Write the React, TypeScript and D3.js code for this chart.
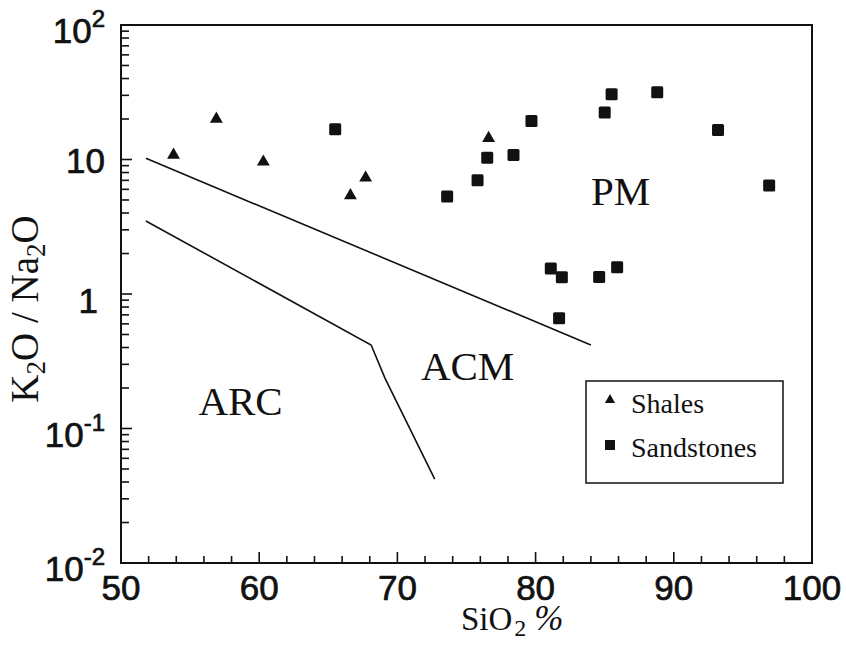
import * as d3 from "d3";

const W = 846;
const H = 650;
const left = 121;
const right = 812;
const top = 25;
const bottom = 563;

// SiO2 %, K2O/Na2O
const shalesSiO2 = [53.8, 56.9, 60.3, 66.6, 67.7, 76.6];
const shalesRatio = [10.8, 20, 9.6, 5.4, 7.3, 14.4];

const sandSiO2 = [65.5, 73.6, 75.8, 76.5, 78.4, 79.7, 81.1, 81.9, 81.7, 84.6, 85.0, 85.5, 85.9, 88.8, 93.2, 96.9];
const sandRatio = [16.8, 5.3, 7.0, 10.3, 10.8, 19.3, 1.55, 1.33, 0.66, 1.34, 22.4, 30.5, 1.58, 31.6, 16.6, 6.4];

// discriminant boundaries
const upperLine: [number, number][] = [[51.8, 10.2], [84.0, 0.418]];
const lowerLine: [number, number][] = [[51.8, 3.49], [68.1, 0.418], [69.1, 0.237], [72.7, 0.042]];

const xTicks = [50, 60, 70, 80, 90, 100];
const yTicks = [100, 10, 1, 0.1, 0.01];
const yTickBase = ["10", "10", "1", "10", "10"];
const yTickExp = ["2", "", "", "-1", "-2"];

// field names, placed at their left / baseline
const regionNames = ["ARC", "ACM", "PM"];
const regionSiO2 = [55.6, 71.7, 84.0];
const regionRatio = [0.126, 0.229, 4.6];

const x = d3.scaleLinear().domain([50, 100]).range([left, right]);
const y = d3.scaleLog().domain([0.01, 100]).range([bottom, top]);

const line = d3
  .line<[number, number]>()
  .x((d) => x(d[0]))
  .y((d) => y(d[1]));

const xMinor = d3.range(52, 100, 2).filter((v) => v % 10 !== 0);
const yMinor: number[] = [];
[0.01, 0.1, 1, 10].forEach((dec) => {
  for (let k = 2; k <= 9; k++) yMinor.push(dec * k);
});

const tri = d3.symbol().type(d3.symbolTriangle).size(72);
const triSmall = d3.symbol().type(d3.symbolTriangle).size(45);

const sans = "Liberation Sans, Arial, sans-serif";
const serif = "Liberation Serif, Times New Roman, serif";

function App() {
  return (
    <svg
      width={W}
      height={H}
      style={{ position: "absolute", left: 0, top: 0, background: "#fff" }}
    >
      <rect x={0} y={0} width={W} height={H} fill="#fff" />

      {/* frame */}
      <rect
        x={left}
        y={top}
        width={right - left}
        height={bottom - top}
        fill="none"
        stroke="#111"
        strokeWidth={2}
      />

      {/* x ticks */}
      {xTicks.map((t) => (
        <line key={"xm" + t} x1={x(t)} x2={x(t)} y1={bottom} y2={bottom - 11} stroke="#111" strokeWidth={1.6} />
      ))}
      {xMinor.map((t) => (
        <line key={"xn" + t} x1={x(t)} x2={x(t)} y1={bottom} y2={bottom - 7} stroke="#111" strokeWidth={1.6} />
      ))}
      {xTicks.map((t) => (
        <text
          key={"xl" + t}
          x={x(t)}
          y={600}
          textAnchor="middle"
          fontFamily={sans}
          fontSize={35}
          fill="#111"
          stroke="#111"
          strokeWidth={0.7}
        >
          {t}
        </text>
      ))}

      {/* y ticks */}
      {yTicks.map((t) => (
        <line key={"ym" + t} x1={left} x2={left + 11} y1={y(t)} y2={y(t)} stroke="#111" strokeWidth={1.6} />
      ))}
      {yMinor.map((t, i) => (
        <line key={"yn" + i} x1={left} x2={left + 8} y1={y(t)} y2={y(t)} stroke="#111" strokeWidth={1.6} />
      ))}
      {yTicks.map((t, i) => (
        <text
          key={"yl" + t}
          x={yTickExp[i] || yTickBase[i] === "10" ? 105 : 98}
          y={y(t) + (yTickExp[i] ? 18 : yTickBase[i] === "1" ? 19 : 13)}
          textAnchor="end"
          fontFamily={sans}
          fontSize={35}
          fill="#111"
          stroke="#111"
          strokeWidth={0.7}
        >
          {yTickBase[i]}
          {yTickExp[i] && (
            <tspan fontSize={24} dy={-16}>
              {yTickExp[i]}
            </tspan>
          )}
        </text>
      ))}

      {/* axis titles */}
      <text x={461} y={630} fontFamily={serif} fontSize={33} fill="#111">
        SiO
        <tspan fontSize={24} dy={6} dx={2}>2</tspan>
        <tspan dy={-6} dx={8} fontStyle="italic" fontSize={35}>%</tspan>
      </text>
      <text
        transform={`translate(38, 309) rotate(-90)`}
        textAnchor="middle"
        fontFamily={serif}
        fontSize={39}
        fill="#111"
      >
        K<tspan fontSize={27} dy={7}>2</tspan>
        <tspan dy={-7}>O / Na</tspan>
        <tspan fontSize={27} dy={7}>2</tspan>
        <tspan dy={-7}>O</tspan>
      </text>

      {/* boundaries */}
      <path d={line(upperLine) || ""} fill="none" stroke="#111" strokeWidth={1.6} />
      <path d={line(lowerLine) || ""} fill="none" stroke="#111" strokeWidth={1.6} />

      {/* region names */}
      {regionNames.map((n, i) => (
        <text
          key={n}
          x={x(regionSiO2[i])}
          y={y(regionRatio[i])}
          fontFamily={serif}
          fontSize={41}
          fill="#111"
        >
          {n}
        </text>
      ))}

      {/* data */}
      {shalesSiO2.map((s, i) => (
        <path
          key={"sh" + i}
          d={tri() || ""}
          transform={`translate(${x(s)},${y(shalesRatio[i])})`}
          fill="#111"
        />
      ))}
      {sandSiO2.map((s, i) => (
        <rect
          key={"sa" + i}
          x={x(s) - 6}
          y={y(sandRatio[i]) - 6}
          width={12}
          height={12}
          rx={1.5}
          fill="#111"
        />
      ))}

      {/* legend */}
      <rect x={586} y={381} width={197} height={102} fill="#fff" stroke="#111" strokeWidth={1.5} />
      <path d={triSmall() || ""} transform="translate(610,400)" fill="#111" />
      <text x={631} y={413} fontFamily={serif} fontSize={28} fill="#111">
        Shales
      </text>
      <rect x={605} y={440} width={10} height={10} fill="#111" />
      <text x={631} y={457} fontFamily={serif} fontSize={28} fill="#111">
        Sandstones
      </text>
    </svg>
  );
}

export default App;
